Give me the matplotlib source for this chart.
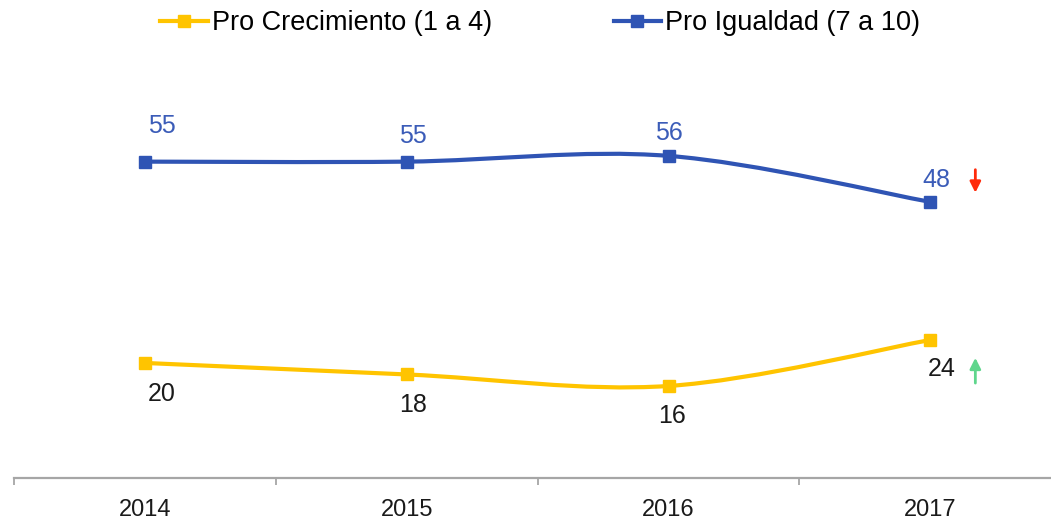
import numpy as np
import matplotlib
matplotlib.use("Agg")
import matplotlib.pyplot as plt
from matplotlib.path import Path
from matplotlib.patches import PathPatch
from matplotlib.lines import Line2D

plt.rcParams['font.family'] = ['Liberation Sans', 'DejaVu Sans']

years = ['2014', '2015', '2016', '2017']
crecimiento = [20, 18, 16, 24]
igualdad = [55, 55, 56, 48]
series_names = ['Pro Crecimiento (1 a 4)', 'Pro Igualdad (7 a 10)']

YELLOW = '#FFC400'
BLUE = '#2F54B4'
BLUE_TXT = '#3B5CB8'
GRAY = '#A6A6A6'


def smooth_path(xs, ys):
    # excel-like smoothed line: cubic bezier segments through the points
    pts = np.column_stack([xs, ys]).astype(float)
    n = len(pts)
    verts = [pts[0]]
    codes = [Path.MOVETO]
    for i in range(n - 1):
        p0 = pts[max(i - 1, 0)]
        p1 = pts[i]
        p2 = pts[i + 1]
        p3 = pts[min(i + 2, n - 1)]
        verts += [p1 + (p2 - p0) / 6, p2 - (p3 - p1) / 6, p2]
        codes += [Path.CURVE4] * 3
    return Path(verts, codes)


fig = plt.figure(figsize=(10.51, 5.19), dpi=100)
ax = fig.add_axes([14.2 / 1051, 41 / 519, 1047 / 1051, 478 / 519])
ax.set_xlim(-0.5, 3.5)
ax.set_ylim(0, 83.1)

x = np.arange(len(years))
for vals, col in [(crecimiento, YELLOW), (igualdad, BLUE)]:
    ax.add_patch(PathPatch(smooth_path(x, vals), fill=False, edgecolor=col,
                           lw=3, capstyle='round', joinstyle='round'))
    ax.plot(x, vals, ls='none', marker='s', ms=9, color=col, zorder=3)

# data labels
blue_off = [(17, 36), (6, 26), (0, 23), (6, 22)]
yel_off = [(17, -31), (6, -31), (3, -30), (11, -29)]
for i, v in enumerate(igualdad):
    ax.annotate(str(v), (x[i], v), xytext=blue_off[i], textcoords='offset pixels',
                ha='center', va='center', fontsize=18, color=BLUE_TXT)
for i, v in enumerate(crecimiento):
    ax.annotate(str(v), (x[i], v), xytext=yel_off[i], textcoords='offset pixels',
                ha='center', va='center', fontsize=18, color='#1a1a1a')

# change arrows next to last values
ax_x = x[-1] + 0.172
ax.annotate('', xy=(ax_x, igualdad[-1] + 1.6), xytext=(ax_x, igualdad[-1] + 5.6),
            arrowprops=dict(arrowstyle='-|>', color='#FF2A0A', lw=2,
                            mutation_scale=16, shrinkA=0, shrinkB=0))
ax.annotate('', xy=(ax_x, crecimiento[-1] - 3.1), xytext=(ax_x, crecimiento[-1] - 7.5),
            arrowprops=dict(arrowstyle='-|>', color='#5FD68C', lw=2,
                            mutation_scale=16, shrinkA=0, shrinkB=0))

# axis styling
for s in ['top', 'right', 'left']:
    ax.spines[s].set_visible(False)
ax.spines['bottom'].set_color(GRAY)
ax.spines['bottom'].set_linewidth(1.6)
ax.set_yticks([])
ax.set_xticks(np.arange(-0.5, len(years), 1.0))
ax.set_xticklabels([])
ax.tick_params(axis='x', which='major', length=5, width=1.3, color=GRAY)
ax.set_xticks(x, minor=True)
ax.set_xticklabels(years, minor=True, fontsize=17, color='#1a1a1a')
ax.tick_params(axis='x', which='minor', length=0, pad=15)

handles = [Line2D([], [], color=YELLOW, lw=3, marker='s', ms=9),
           Line2D([], [], color=BLUE, lw=3, marker='s', ms=9)]
fig.legend(handles, series_names, loc='center', bbox_to_anchor=(0.514, 0.955),
           ncol=2, frameon=False, fontsize=19.5, handlelength=1.75,
           handletextpad=0.15, columnspacing=4.5)

plt.savefig('out.png', dpi=100)
